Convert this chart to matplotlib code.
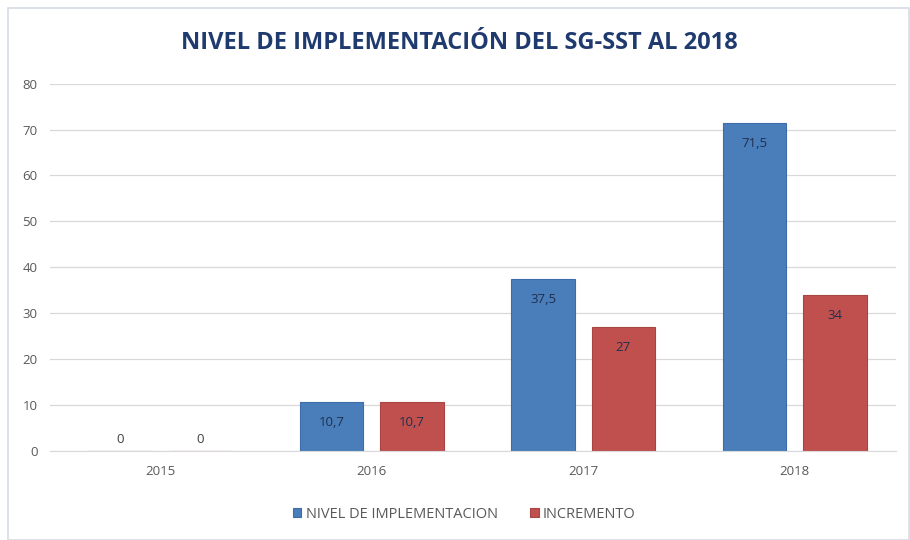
import numpy as np
import matplotlib.pyplot as plt
from matplotlib.patches import Rectangle

years = ['2015', '2016', '2017', '2018']
nivel = [0, 10.7, 37.5, 71.5]
incremento = [0, 10.7, 27, 34]
nivel_labels = ['0', '10,7', '37,5', '71,5']
incremento_labels = ['0', '10,7', '27', '34']

plt.rcParams['font.family'] = ['Open Sans', 'DejaVu Sans']

fig = plt.figure(figsize=(9.1, 5.4), dpi=100)
# outer chart border
fig.add_artist(Rectangle((0.009, 0.0), 0.99, 0.985, transform=fig.transFigure,
                         fill=False, edgecolor='#d6dce5', linewidth=1.2))

ax = fig.add_axes([0.055, 0.165, 0.93, 0.68])
x = np.arange(len(years))
w = 0.3
off = 0.19
b1 = ax.bar(x - off, nivel, w, color='#4a7ebb', edgecolor='#3d6da8', linewidth=0.8,
            label='NIVEL DE IMPLEMENTACION', zorder=2)
b2 = ax.bar(x + off, incremento, w, color='#c0504d', edgecolor='#a84442', linewidth=0.8,
            label='INCREMENTO', zorder=2)

for bars, labs in [(b1, nivel_labels), (b2, incremento_labels)]:
    for rect, lab in zip(bars, labs):
        h = rect.get_height()
        if h == 0:
            ypos = h + 2.4
        else:
            ypos = h - 4.5
        ax.text(rect.get_x() + rect.get_width() / 2, ypos, lab, ha='center', va='center',
                fontsize=9.5, color='#404040' if h == 0 else '#1f2f4f', zorder=3)

ax.set_xlim(-0.52, 3.48)
ax.set_ylim(0, 80)
ax.set_yticks(range(0, 81, 10))
ax.set_xticks(x)
ax.set_xticklabels(years)
ax.grid(axis='y', color='#d9d9d9', linewidth=0.9, zorder=0)
for s in ['top', 'right', 'left']:
    ax.spines[s].set_visible(False)
ax.spines['bottom'].set_color('#d9d9d9')
ax.tick_params(axis='both', length=0, labelsize=9.5, colors='#595959')
ax.tick_params(axis='y', pad=9)
ax.tick_params(axis='x', pad=10)

fig.text(0.505, 0.92, 'NIVEL DE IMPLEMENTACIÓN DEL SG-SST AL 2018', ha='center', va='center',
         fontsize=17, fontweight='bold', color='#1f3a6e')

fig.legend(handles=[b1, b2], loc='center', bbox_to_anchor=(0.51, 0.048), ncol=2,
           frameon=False, fontsize=10.5, handlelength=0.6, handleheight=0.6,
           columnspacing=2.2, handletextpad=0.3, labelcolor='#595959')

fig.savefig('out.png', dpi=100, facecolor='white')
